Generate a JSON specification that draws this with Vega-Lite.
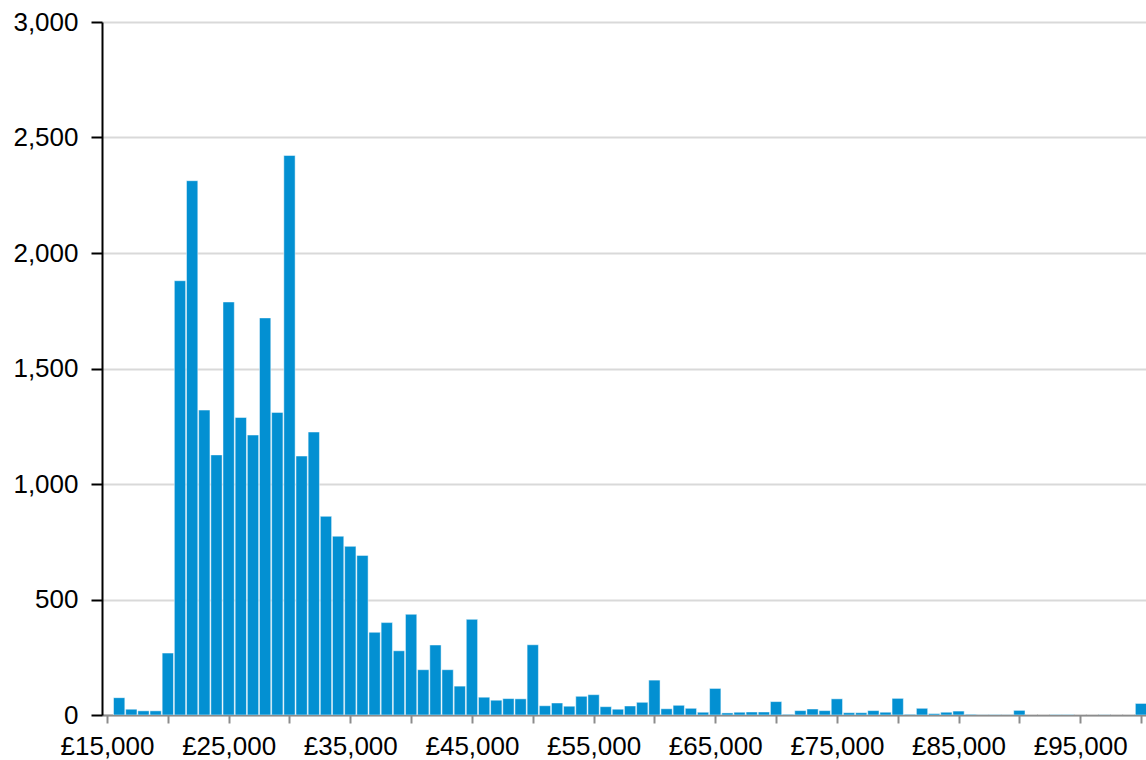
{
  "$schema": "https://vega.github.io/schema/vega-lite/v6.json",
  "width": 1044,
  "height": 693,
  "autosize": {"type": "none"},
  "padding": {"left": 102, "top": 22, "right": 0, "bottom": 45},
  "background": "white",
  "config": {
    "view": {"stroke": null},
    "font": "Liberation Sans"
  },
  "data": {
    "values": [
      {"salary": 16000, "count": 75}, {"salary": 17000, "count": 25}, {"salary": 18000, "count": 18}, {"salary": 19000, "count": 18},
      {"salary": 20000, "count": 268}, {"salary": 21000, "count": 1880}, {"salary": 22000, "count": 2313}, {"salary": 23000, "count": 1320},
      {"salary": 24000, "count": 1126}, {"salary": 25000, "count": 1788}, {"salary": 26000, "count": 1288}, {"salary": 27000, "count": 1212},
      {"salary": 28000, "count": 1719}, {"salary": 29000, "count": 1310}, {"salary": 30000, "count": 2422}, {"salary": 31000, "count": 1121},
      {"salary": 32000, "count": 1225}, {"salary": 33000, "count": 860}, {"salary": 34000, "count": 774}, {"salary": 35000, "count": 730},
      {"salary": 36000, "count": 691}, {"salary": 37000, "count": 358}, {"salary": 38000, "count": 400}, {"salary": 39000, "count": 278},
      {"salary": 40000, "count": 436}, {"salary": 41000, "count": 196}, {"salary": 42000, "count": 303}, {"salary": 43000, "count": 196},
      {"salary": 44000, "count": 125}, {"salary": 45000, "count": 414}, {"salary": 46000, "count": 77}, {"salary": 47000, "count": 64},
      {"salary": 48000, "count": 71}, {"salary": 49000, "count": 70}, {"salary": 50000, "count": 304}, {"salary": 51000, "count": 40},
      {"salary": 52000, "count": 52}, {"salary": 53000, "count": 38}, {"salary": 54000, "count": 81}, {"salary": 55000, "count": 88},
      {"salary": 56000, "count": 36}, {"salary": 57000, "count": 25}, {"salary": 58000, "count": 39}, {"salary": 59000, "count": 55},
      {"salary": 60000, "count": 151}, {"salary": 61000, "count": 27}, {"salary": 62000, "count": 42}, {"salary": 63000, "count": 29},
      {"salary": 64000, "count": 12}, {"salary": 65000, "count": 115}, {"salary": 66000, "count": 9}, {"salary": 67000, "count": 12},
      {"salary": 68000, "count": 13}, {"salary": 69000, "count": 13}, {"salary": 70000, "count": 58}, {"salary": 71000, "count": 3},
      {"salary": 72000, "count": 19}, {"salary": 73000, "count": 26}, {"salary": 74000, "count": 19}, {"salary": 75000, "count": 70},
      {"salary": 76000, "count": 10}, {"salary": 77000, "count": 10}, {"salary": 78000, "count": 19}, {"salary": 79000, "count": 12},
      {"salary": 80000, "count": 72}, {"salary": 81000, "count": 3}, {"salary": 82000, "count": 29}, {"salary": 83000, "count": 6},
      {"salary": 84000, "count": 12}, {"salary": 85000, "count": 17}, {"salary": 86000, "count": 3}, {"salary": 87000, "count": 1},
      {"salary": 88000, "count": 2}, {"salary": 89000, "count": 1}, {"salary": 90000, "count": 20}, {"salary": 91000, "count": 0},
      {"salary": 92000, "count": 0}, {"salary": 93000, "count": 2}, {"salary": 94000, "count": 2}, {"salary": 95000, "count": 0},
      {"salary": 96000, "count": 0}, {"salary": 97000, "count": 1}, {"salary": 98000, "count": 0}, {"salary": 99000, "count": 0},
      {"salary": 100000, "count": 50}
    ]
  },
  "mark": {"type": "bar", "size": 11.3, "color": "#0390d2", "stroke": "#ffffff", "strokeWidth": 0.8, "strokeOpacity": 0.6, "clip": true},
  "encoding": {
    "x": {
      "field": "salary",
      "type": "quantitative",
      "scale": {"domain": [15000, 100000], "nice": false, "zero": false},
      "axis": {
        "title": null,
        "values": [15000, 20000, 25000, 30000, 35000, 40000, 45000, 50000, 55000, 60000, 65000, 70000, 75000, 80000, 85000, 90000, 95000, 100000],
        "labelExpr": "datum.value % 10000 == 5000 ? '£' + format(datum.value, ',d') : ''",
        "labelOverlap": false,
        "labelFlush": false,
        "labelFont": "Liberation Sans",
        "labelFontSize": 26,
        "labelColor": "#000000",
        "labelPadding": 10,
        "grid": false,
        "domainColor": "#8c8c8c",
        "domainWidth": 2,
        "tickColor": "#8c8c8c",
        "tickWidth": 2,
        "tickSize": 8
      }
    },
    "y": {
      "field": "count",
      "type": "quantitative",
      "scale": {"domain": [0, 3000], "nice": false},
      "axis": {
        "title": null,
        "values": [0, 500, 1000, 1500, 2000, 2500, 3000],
        "labelExpr": "format(datum.value, ',d')",
        "labelFont": "Liberation Sans",
        "labelFontSize": 26,
        "labelColor": "#000000",
        "labelPadding": 13,
        "grid": true,
        "gridColor": "#d9d9d9",
        "gridWidth": 2,
        "domainColor": "#000000",
        "domainWidth": 2,
        "tickColor": "#000000",
        "tickWidth": 2,
        "tickSize": 11
      }
    }
  }
}
